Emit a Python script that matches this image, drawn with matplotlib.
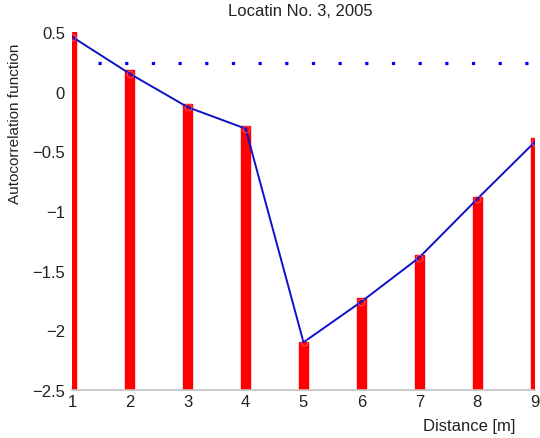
import numpy as np
import matplotlib
matplotlib.use('Agg')
import matplotlib.pyplot as plt
from matplotlib.ticker import FuncFormatter

plt.rcParams['font.family'] = ['Liberation Sans', 'DejaVu Sans']

# experimental autocorrelation (bars) and fitted model (line)
distance = [1, 2, 3, 4, 5, 6, 7, 8, 9]
acf_exp = [0.50, 0.18, -0.10, -0.29, -2.10, -1.73, -1.37, -0.88, -0.39]
acf_fit = [0.46, 0.15, -0.13, -0.31, -2.10, -1.76, -1.39, -0.90, -0.42]
conf_level = 0.24
conf_range = [1.45, 9.0]
yticks = [0.5, 0, -0.5, -1, -1.5, -2, -2.5]

fig = plt.figure(figsize=(5.4, 4.39), dpi=100)
ax = fig.add_axes([72 / 540, 1 - 391 / 439, 463 / 540, 358 / 439])

ybase = -2.5
heights = [v - ybase for v in acf_exp]
ax.bar(distance, heights, bottom=ybase, width=0.155, color='#ff0000',
       edgecolor='#ff0000', linewidth=1.0, zorder=2)

ax.plot(distance, acf_fit, color='#1010c8', linewidth=1.4, zorder=3)
ax.plot(distance, acf_fit, 'o', markersize=5, markerfacecolor='none',
        markeredgecolor='#e8b8e8', markeredgewidth=0.5, alpha=0.6, zorder=3)

ax.plot(conf_range, [conf_level, conf_level], color='#0000ff', linewidth=2.3,
        dashes=(1, 7.35), dash_capstyle='butt', zorder=3)

ax.set_xlim(1, 9)
ax.set_ylim(-2.5, 0.5)
ax.set_xticks(distance)
ax.set_yticks(yticks)
ax.yaxis.set_major_formatter(FuncFormatter(lambda v, p: ('%g' % v).replace('-', '\u2212')))
ax.tick_params(length=0, labelsize=12, colors='#222222', pad=5)
ax.tick_params(axis='x', pad=3)

for s in ['top', 'right', 'left']:
    ax.spines[s].set_visible(False)
ax.spines['bottom'].set_color('#c0c0c0')
ax.spines['bottom'].set_linewidth(1.2)

fig.text(300 / 540, 1 - 12 / 439, 'Locatin No. 3, 2005', ha='center', va='center',
         fontsize=12, color='#222222')
fig.text(469 / 540, 1 - 427 / 439, 'Distance [m]', ha='center', va='center',
         fontsize=12, color='#222222')
fig.text(15 / 540, 1 - 124 / 439, 'Autocorrelation function', ha='center', va='center',
         rotation=90, fontsize=11, color='#222222')

fig.savefig('out.png', dpi=100)
